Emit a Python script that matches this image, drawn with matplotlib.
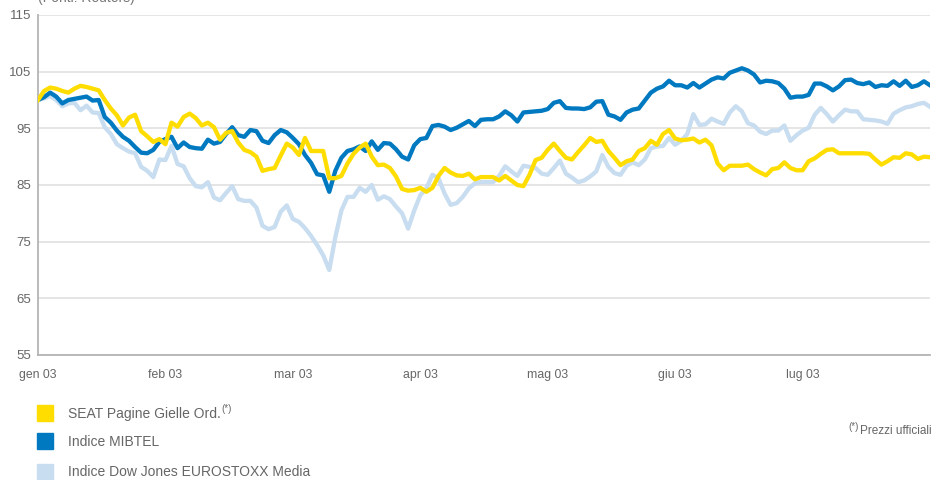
import matplotlib
matplotlib.use("Agg")
import matplotlib.pyplot as plt
from matplotlib import font_manager
from matplotlib.patches import Rectangle
import numpy as np

# month labels: one every 21 sessions
months = ["gen 03", "feb 03", "mar 03", "apr 03", "mag 03", "giu 03", "lug 03"]
sessions_per_month = 21

seat = [
    100.0, 101.6, 102.2, 102.0, 101.6, 101.3, 102.0, 102.5, 102.3, 102.0,
    101.7, 100.0, 98.5, 97.3, 95.5, 96.9, 97.4, 94.5, 93.6, 92.6,
    93.1, 92.2, 96.0, 95.3, 97.0, 97.6, 96.8, 95.5, 96.0, 95.2,
    93.0, 94.2, 94.5, 92.5, 91.2, 90.8, 90.0, 87.5, 87.8, 88.0,
    90.2, 92.3, 91.6, 90.3, 93.3, 91.0, 91.0, 91.0, 86.2, 86.2,
    86.6, 88.8, 90.5, 91.6, 92.3, 90.0, 88.5, 88.6, 88.0, 86.5,
    84.3, 84.0, 84.1, 84.5, 83.8, 84.5, 86.6, 88.0, 87.2, 86.7,
    86.6, 87.0, 86.0, 86.4, 86.4, 86.4, 85.8, 86.6, 85.8, 85.0,
    84.8, 86.8, 89.4, 89.8, 91.2, 92.3, 91.0, 89.8, 89.5, 90.8,
    92.0, 93.3, 92.6, 92.8, 91.0, 89.8, 88.5, 89.2, 89.5, 91.0,
    91.5, 92.8, 92.1, 94.0, 94.7, 93.2, 92.9, 93.0, 93.2, 92.5,
    93.0, 92.0, 88.8, 87.6, 88.4, 88.4, 88.4, 88.6, 87.8, 87.2,
    86.7, 87.8, 88.0, 89.0, 88.0, 87.6, 87.6, 89.2, 89.7, 90.5,
    91.2, 91.3, 90.6, 90.6, 90.6, 90.6, 90.6, 90.5, 89.5, 88.6,
    89.2, 89.9, 89.8, 90.6, 90.4, 89.6, 90.0, 89.9,
]

mibtel = [
    100.0, 100.5, 101.3, 100.6, 99.4, 100.0, 100.2, 100.4, 100.6, 99.9,
    100.0, 97.0, 96.0, 94.6, 93.5, 92.8, 91.7, 90.7, 90.6, 91.2,
    92.6, 93.1, 93.5, 91.5, 92.5, 91.7, 91.5, 91.4, 93.0, 92.3,
    92.6, 94.0, 95.2, 93.8, 93.5, 94.7, 94.5, 92.8, 92.4, 93.8,
    94.7, 94.3, 93.3, 92.2, 90.3, 88.9, 86.9, 86.7, 83.8, 87.5,
    89.8, 91.0, 91.3, 91.8, 91.0, 92.7, 91.2, 92.4, 92.3, 91.3,
    90.0, 89.5, 92.0, 93.1, 93.3, 95.4, 95.6, 95.3, 94.7, 95.1,
    95.7, 96.3, 95.4, 96.5, 96.6, 96.6, 97.1, 98.0, 97.3, 96.2,
    97.8, 97.9, 98.0, 98.1, 98.4, 99.5, 99.8, 98.6, 98.5, 98.5,
    98.4, 98.7, 99.7, 99.8, 97.4, 97.1, 96.5, 97.8, 98.3, 98.5,
    99.9, 101.3, 102.0, 102.4, 103.4, 102.6, 102.6, 102.2, 103.0, 102.2,
    102.9, 103.6, 104.0, 103.8, 104.8, 105.2, 105.6, 105.2, 104.5, 103.1,
    103.4, 103.3, 103.0, 102.0, 100.4, 100.6, 100.6, 100.9, 102.9, 102.9,
    102.4, 101.7, 102.4, 103.5, 103.6, 103.0, 102.8, 103.1, 102.3, 102.6,
    102.5, 103.3, 102.5, 103.4, 102.3, 102.6, 103.3, 102.6,
]

eurostoxx_media = [
    100.0, 100.3, 100.7, 100.0, 98.9, 99.4, 99.5, 98.2, 99.0, 97.8,
    97.7, 95.2, 94.0, 92.2, 91.5, 90.9, 90.6, 88.2, 87.5, 86.4,
    89.5, 89.4, 91.9, 88.7, 88.3, 86.2, 84.8, 84.6, 85.5, 82.8,
    82.3, 83.6, 84.8, 82.5, 82.2, 82.2, 81.0, 77.8, 77.2, 77.6,
    80.3, 81.4, 79.0, 78.5, 77.4, 76.0, 74.4, 72.6, 70.0, 75.8,
    80.5, 82.9, 82.9, 84.5, 83.8, 85.0, 82.4, 83.0, 82.5, 81.2,
    80.0, 77.3, 80.5, 83.2, 84.4, 86.8, 86.2, 83.5, 81.5, 81.8,
    82.9, 84.4, 85.3, 85.5, 85.5, 85.5, 86.6, 88.3, 87.4, 86.6,
    88.4, 88.2, 88.0, 87.0, 86.8, 88.0, 89.3, 87.0, 86.3, 85.5,
    85.8, 86.5, 87.4, 90.3, 88.2, 87.1, 86.8, 88.4, 89.0, 88.5,
    89.5, 91.5, 91.8, 91.9, 93.3, 92.1, 92.8, 94.0, 97.5, 95.6,
    95.7, 96.7, 96.2, 95.8, 97.8, 98.9, 98.0, 95.9, 95.5, 94.4,
    94.0, 94.6, 94.6, 95.5, 92.8, 93.8, 94.6, 95.1, 97.4, 98.6,
    97.5, 96.2, 97.3, 98.3, 98.0, 98.0, 96.6, 96.5, 96.4, 96.2,
    95.8, 97.6, 98.2, 98.7, 98.9, 99.3, 99.5, 98.8,
]

labels = ["SEAT Pagine Gielle Ord.", "Indice MIBTEL", "Indice Dow Jones EUROSTOXX Media"]
colors = ["#FFDD00", "#0079C1", "#C8DDF0"]

installed = {f.name for f in font_manager.fontManager.ttflist}
base_font = "Liberation Sans Narrow" if "Liberation Sans Narrow" in installed else "Liberation Sans"
plt.rcParams["font.family"] = [base_font, "DejaVu Sans"]

W, H = 933, 480
fig = plt.figure(figsize=(W / 100, H / 100), dpi=100)
ax = fig.add_axes([38 / W, 125 / H, 892 / W, 340 / H])

x = np.arange(len(seat))
# lightest first so the stock line sits on top
ax.plot(x, eurostoxx_media, color=colors[2], lw=3.1, solid_joinstyle="round", zorder=3)
ax.plot(x, mibtel, color=colors[1], lw=3.1, solid_joinstyle="round", zorder=4)
ax.plot(x, seat, color=colors[0], lw=3.1, solid_joinstyle="round", zorder=5)

ax.set_xlim(0, len(seat) - 1)
ax.set_ylim(55, 115)
ax.set_yticks(np.arange(55, 116, 10))
ax.set_xticks(np.arange(len(months)) * sessions_per_month)
ax.set_xticklabels(months)
ax.grid(axis="y", color="#E0E0E0", lw=1.2, zorder=0)
ax.set_axisbelow(True)
for side in ["top", "right"]:
    ax.spines[side].set_visible(False)
for side in ["left", "bottom"]:
    ax.spines[side].set_color("#B4B4B4")
    ax.spines[side].set_linewidth(1.3)
ax.tick_params(axis="both", length=0, colors="#666666")
ax.tick_params(axis="x", pad=10, labelsize=8.8)
ax.tick_params(axis="y", pad=5, labelsize=9.5)

# source line, cut off by the top edge as in the original
fig.text(38 / W, 1 - 2 / H, "(Fonti: Reuters)", fontsize=10, color="#777777",
         ha="left", va="baseline")

# legend as coloured squares + text
rows_y = [413, 440.5, 471.5]
texts = []
for lab, col, yc in zip(labels, colors, rows_y):
    fig.patches.append(Rectangle((37 / W, 1 - (yc + 8) / H), 16 / W, 16 / H,
                                 transform=fig.transFigure, color=col, figure=fig))
    t = fig.text(68 / W, 1 - (yc + 1) / H, lab, fontsize=10, color="#666666",
                 ha="left", va="center")
    texts.append(t)
ax.annotate("(*)", xy=(1, 1), xycoords=texts[0], xytext=(0.5, 2), textcoords="offset points",
            fontsize=7, color="#666666", ha="left", va="top", annotation_clip=False)

note = fig.text(932 / W, 1 - 431 / H, "Prezzi ufficiali", fontsize=8.5, color="#666666",
                ha="right", va="center")
ax.annotate("(*)", xy=(0, 1), xycoords=note, xytext=(-1.5, 2), textcoords="offset points",
            fontsize=7, color="#666666", ha="right", va="top", annotation_clip=False)

fig.savefig("out.png", dpi=100)
